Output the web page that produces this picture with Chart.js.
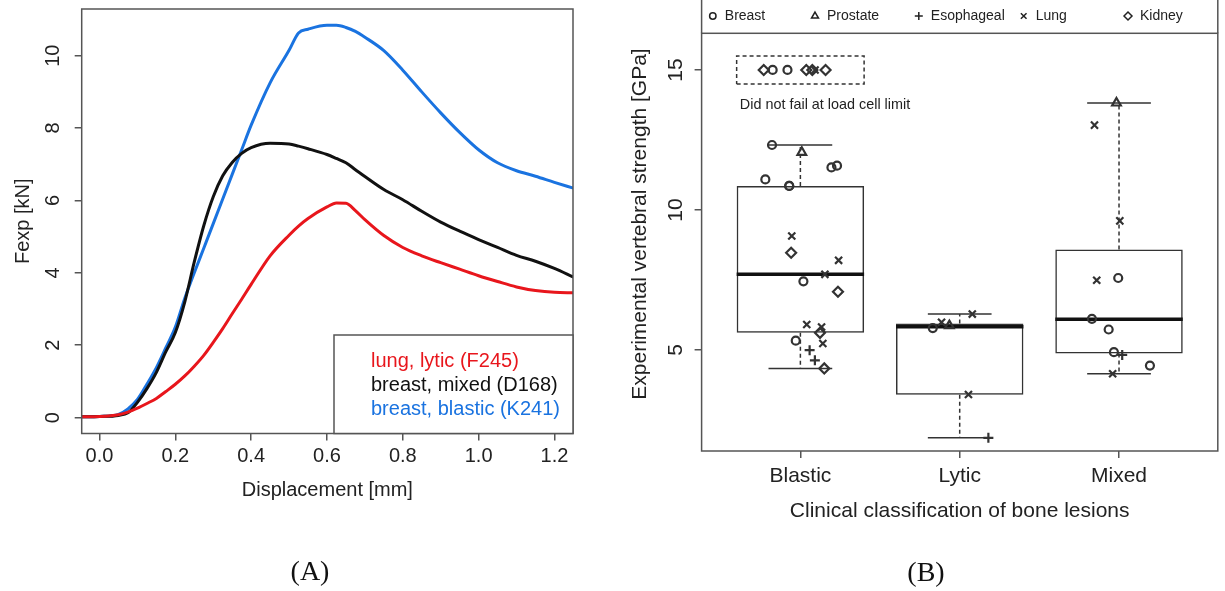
<!DOCTYPE html>
<html>
<head>
<meta charset="utf-8">
<script src="https://cdn.jsdelivr.net/npm/chart.js@4.4.0/dist/chart.umd.min.js"></script>
<style>
  body { margin: 0; background: #fff; }
  #wrap { position: relative; width: 1225px; height: 591px; }
  canvas { position: absolute; top: 0; }
  #chartA { left: 0; }
  #chartB { left: 600px; }
  .panel {
    position: absolute;
    transform: translate(-50%, -50%);
    font-family: "Liberation Serif", "DejaVu Serif", serif;
    font-size: 28px;
    color: #111;
  }
</style>
</head>
<body>
<div id="wrap">
  <canvas id="chartA" width="600" height="591"></canvas>
  <canvas id="chartB" width="625" height="591"></canvas>
  <div class="panel" style="left:310px;top:571px">(A)</div>
  <div class="panel" style="left:926px;top:572px">(B)</div>
</div>
<script>
// ---- panel A: force vs displacement ----
const displacement = [-0.05, 0, 0.05, 0.075, 0.1, 0.125, 0.15, 0.175, 0.2, 0.225, 0.25, 0.275, 0.3, 0.325, 0.35, 0.375, 0.4, 0.45, 0.5, 0.525, 0.55, 0.6, 0.625, 0.65, 0.675, 0.7, 0.75, 0.8, 0.85, 0.9, 0.95, 1.0, 1.05, 1.1, 1.15, 1.2, 1.25];
const forceLytic = [0.02, 0.03, 0.08, 0.15, 0.26, 0.39, 0.53, 0.72, 0.92, 1.15, 1.42, 1.72, 2.08, 2.46, 2.87, 3.27, 3.68, 4.47, 5.04, 5.29, 5.5, 5.82, 5.93, 5.92, 5.72, 5.47, 5.03, 4.7, 4.47, 4.28, 4.1, 3.92, 3.76, 3.61, 3.51, 3.46, 3.45];
const forceMixed = [0.02, 0.03, 0.06, 0.13, 0.42, 0.8, 1.25, 1.82, 2.35, 3.2, 4.3, 5.3, 6.1, 6.68, 7.05, 7.3, 7.46, 7.58, 7.56, 7.5, 7.43, 7.27, 7.16, 7.04, 6.85, 6.66, 6.3, 6.02, 5.7, 5.4, 5.15, 4.92, 4.7, 4.48, 4.32, 4.12, 3.88];
const forceBlastic = [0.02, 0.03, 0.09, 0.24, 0.5, 0.92, 1.38, 1.93, 2.5, 3.3, 4.0, 4.68, 5.36, 6.04, 6.72, 7.4, 8.08, 9.25, 10.15, 10.63, 10.73, 10.84, 10.84, 10.78, 10.67, 10.51, 10.14, 9.6, 9.0, 8.42, 7.88, 7.4, 7.04, 6.82, 6.67, 6.5, 6.34];
const curveLabels = ["lung, lytic (F245)", "breast, mixed (D168)", "breast, blastic (K241)"];
const curveColors = ["#e8161c", "#111111", "#1a73e0"];
const ticksDisp = [0, 0.2, 0.4, 0.6, 0.8, 1.0, 1.2];
const ticksForce = [0, 2, 4, 6, 8, 10];

// ---- panel B: strength by lesion type ----
const lesionTypes = ["Blastic", "Lytic", "Mixed"];
const boxQ1 = [5.61, 3.40, 4.87];
const boxMedian = [7.70, 5.83, 6.10];
const boxQ3 = [10.86, 5.94, 8.59];
const whiskerLow = [4.34, 1.86, 4.15];
const whiskerHigh = [12.32, 6.28, 13.82];
const ticksStrength = [5, 10, 15];

// jittered positions (category + jitter) and strengths, per cancer type
const breastPos = [0.822, 1.195, 1.23, 0.78, 0.93, 0.93, 1.019, 0.971, 1.831, 2.995, 2.83, 2.935, 2.968, 3.194, 0.826, 0.919];
const breastVal = [12.32, 11.52, 11.58, 11.09, 10.86, 10.86, 7.45, 5.33, 5.78, 7.57, 6.11, 5.73, 4.92, 4.44, 15, 15];
const prostatePos = [1.009, 1.935, 2.984];
const prostateVal = [12.06, 5.87, 13.82];
const esophagealPos = [1.058, 1.091, 2.18, 3.02];
const esophagealVal = [4.99, 4.63, 1.86, 4.82];
const lungPos = [0.946, 1.24, 1.154, 1.04, 1.133, 1.141, 1.886, 2.079, 2.055, 2.846, 3.005, 2.86, 2.96, 1.092];
const lungVal = [9.07, 8.2, 7.7, 5.91, 5.82, 5.23, 5.99, 6.28, 3.41, 13.03, 9.61, 7.49, 4.15, 15];
const kidneyPos = [0.942, 1.236, 1.123, 1.15, 0.77, 1.037, 1.075, 1.158];
const kidneyVal = [8.47, 7.08, 5.61, 4.34, 15, 15, 15, 15];
const noFailX = [0.6, 1.4];
const noFailY = [14.5, 15.5];

const cancerTypes = ["Breast", "Prostate", "Esophageal", "Lung", "Kidney"];
const cancerStyles = ["circle", "triangle", "cross", "crossRot", "rectRot"];

const FONT = "'Liberation Sans', Arial, Helvetica, sans-serif";
Chart.defaults.font.family = FONT;
Chart.defaults.color = "#222";

const BOX_HALF = 0.4;
const CAP_HALF = 0.2;
const INK = "#333";

const toXY = (xs, ys) => xs.map((x, i) => ({ x: x, y: ys[i] }));

// fixed axis boxes so the plot frame lands where the original has it
const fixHeight = (h) => (s) => { s.height = h; s.paddingLeft = 0; s.paddingRight = 0; };
const fixWidth = (w) => (s) => { s.width = w; s.paddingTop = 0; s.paddingBottom = 0; };

const frame = {
  id: "frame",
  afterDraw(chart) {
    const { ctx, chartArea: a } = chart;
    ctx.save();
    ctx.strokeStyle = "#555";
    ctx.lineWidth = 1.5;
    ctx.strokeRect(a.left, a.top, a.right - a.left, a.bottom - a.top);
    ctx.restore();
  },
};

const legendA = {
  id: "legendA",
  afterDraw(chart) {
    const { ctx, chartArea: a } = chart;
    ctx.save();
    ctx.fillStyle = "#fff";
    ctx.fillRect(334, 335, a.right - 334, a.bottom - 335);
    ctx.strokeStyle = "#555";
    ctx.lineWidth = 1.5;
    ctx.strokeRect(334, 335, a.right - 334, a.bottom - 335);
    ctx.font = "20px " + FONT;
    ctx.textBaseline = "middle";
    curveLabels.forEach((t, i) => {
      ctx.fillStyle = curveColors[i];
      ctx.fillText(t, 371, 361 + i * 24);
    });
    ctx.restore();
  },
};

new Chart(document.getElementById("chartA"), {
  type: "line",
  data: {
    datasets: [forceLytic, forceMixed, forceBlastic].map((f, i) => ({
      label: curveLabels[i],
      data: toXY(displacement, f),
      borderColor: curveColors[i],
      borderWidth: 3,
      pointRadius: 0,
      cubicInterpolationMode: "monotone",
    })),
  },
  options: {
    responsive: false,
    animation: false,
    layout: { padding: { top: 9, right: 27, left: 0, bottom: 0 } },
    plugins: { legend: { display: false }, tooltip: { enabled: false } },
    scales: {
      x: {
        type: "linear",
        min: -0.047,
        max: 1.249,
        afterFit: fixHeight(157.5),
        afterBuildTicks: (s) => { s.ticks = ticksDisp.map((v) => ({ value: v })); },
        ticks: { callback: (v) => v.toFixed(1), font: { size: 20 }, padding: 4, color: "#222" },
        grid: { drawOnChartArea: false, tickLength: 7, color: "#555", lineWidth: 1.5 },
        border: { display: false },
        title: { display: true, text: "Displacement [mm]", font: { size: 20 }, color: "#222", padding: { bottom: 89 } },
      },
      y: {
        type: "linear",
        min: -0.44,
        max: 11.29,
        afterFit: fixWidth(81.7),
        afterBuildTicks: (s) => { s.ticks = ticksForce.map((v) => ({ value: v })); },
        ticks: { minRotation: 90, maxRotation: 90, crossAlign: "center", font: { size: 20 }, padding: 10, color: "#222" },
        grid: { drawOnChartArea: false, tickLength: 7, color: "#555", lineWidth: 1.5 },
        border: { display: false },
        title: { display: true, text: "Fexp [kN]", font: { size: 20 }, color: "#222", padding: { top: 11 } },
      },
    },
  },
  plugins: [frame, legendA],
});

// ---- panel B ----
const medianSegs = [];
const whiskerSegs = [];
const capSegs = [];
lesionTypes.forEach((_, i) => {
  const c = i + 1;
  medianSegs.push({ x: c - BOX_HALF, y: boxMedian[i] }, { x: c + BOX_HALF, y: boxMedian[i] }, { x: c, y: null });
  whiskerSegs.push({ x: c, y: boxQ3[i] }, { x: c, y: whiskerHigh[i] }, { x: c, y: null });
  whiskerSegs.push({ x: c, y: boxQ1[i] }, { x: c, y: whiskerLow[i] }, { x: c, y: null });
  capSegs.push({ x: c - CAP_HALF, y: whiskerHigh[i] }, { x: c + CAP_HALF, y: whiskerHigh[i] }, { x: c, y: null });
  capSegs.push({ x: c - CAP_HALF, y: whiskerLow[i] }, { x: c + CAP_HALF, y: whiskerLow[i] }, { x: c, y: null });
});

const noFailRect = [
  { x: noFailX[0], y: noFailY[0] }, { x: noFailX[1], y: noFailY[0] },
  { x: noFailX[1], y: noFailY[1] }, { x: noFailX[0], y: noFailY[1] },
  { x: noFailX[0], y: noFailY[0] },
];

const pointSets = [
  [breastPos, breastVal],
  [prostatePos, prostateVal],
  [esophagealPos, esophagealVal],
  [lungPos, lungVal],
  [kidneyPos, kidneyVal],
];

const pointDatasets = pointSets.map(([xs, ys], i) => ({
  type: "scatter",
  label: cancerTypes[i],
  data: toXY(xs, ys),
  pointStyle: cancerStyles[i],
  pointRadius: cancerStyles[i] === "circle" ? 4 : 5,
  borderColor: INK,
  backgroundColor: "rgba(0,0,0,0)",
  borderWidth: 2.2,
  order: 0,
}));

const legendB = {
  id: "legendB",
  afterDraw(chart) {
    const { ctx, chartArea: a } = chart;
    const symX = [112.8, 215, 318.8, 423.7, 528];
    ctx.save();
    ctx.strokeStyle = "#555";
    ctx.lineWidth = 1.5;
    ctx.beginPath();
    ctx.moveTo(a.left, 0);
    ctx.lineTo(a.left, a.top);
    ctx.moveTo(a.right, 0);
    ctx.lineTo(a.right, a.top);
    ctx.stroke();
    ctx.font = "14px " + FONT;
    ctx.textBaseline = "middle";
    ctx.fillStyle = "#222";
    cancerTypes.forEach((t, i) => {
      ctx.strokeStyle = "#222";
      ctx.fillStyle = "rgba(0,0,0,0)";
      Chart.helpers.drawPoint(ctx, { pointStyle: cancerStyles[i], radius: cancerStyles[i] === "circle" ? 3.2 : 4, borderWidth: 1, rotation: 0 }, symX[i], 16);
      ctx.fillStyle = "#222";
      ctx.fillText(t, symX[i] + 12, 16);
    });

    // note under the dashed box
    const xs = chart.scales.x;
    const ys = chart.scales.y;
    ctx.font = "14.4px " + FONT;
    ctx.fillText("Did not fail at load cell limit", xs.getPixelForValue(0.62), ys.getPixelForValue(13.75));

    // rotated y axis title
    ctx.translate(40, 224);
    ctx.rotate(-Math.PI / 2);
    ctx.textAlign = "center";
    ctx.font = "21px " + FONT;
    ctx.fillText("Experimental vertebral strength [GPa]", 0, 0);
    ctx.restore();
  },
};

new Chart(document.getElementById("chartB"), {
  type: "scatter",
  data: {
    datasets: [
      ...pointDatasets,
      {
        type: "line",
        label: "median",
        data: medianSegs,
        borderColor: "#111",
        borderWidth: 3.5,
        pointRadius: 0,
        order: 1,
      },
      {
        type: "line",
        label: "whiskers",
        data: whiskerSegs,
        borderColor: INK,
        borderWidth: 1.5,
        borderDash: [4, 3],
        pointRadius: 0,
        order: 1,
      },
      {
        type: "line",
        label: "caps",
        data: capSegs,
        borderColor: INK,
        borderWidth: 1.5,
        pointRadius: 0,
        order: 1,
      },
      {
        type: "line",
        label: "not failed",
        data: noFailRect,
        borderColor: INK,
        borderWidth: 1.5,
        borderDash: [4, 3],
        pointRadius: 0,
        order: 1,
      },
      {
        type: "bar",
        label: "box",
        data: lesionTypes.map((_, i) => ({ x: i + 1, y: [boxQ1[i], boxQ3[i]] })),
        backgroundColor: "rgba(255,255,255,0)",
        borderColor: INK,
        borderWidth: 1.5,
        borderSkipped: false,
        barPercentage: 0.8,
        categoryPercentage: 1,
        order: 2,
      },
    ],
  },
  options: {
    responsive: false,
    animation: false,
    layout: { padding: { top: 33.3, right: 0, left: 0, bottom: 0 } },
    plugins: { legend: { display: false }, tooltip: { enabled: false } },
    scales: {
      x: {
        type: "linear",
        min: 0.38,
        max: 3.62,
        offset: false,
        afterFit: fixHeight(140),
        afterBuildTicks: (s) => { s.ticks = lesionTypes.map((_, i) => ({ value: i + 1 })); },
        ticks: { callback: (v) => lesionTypes[Math.round(v) - 1], font: { size: 21 }, padding: 6, color: "#222" },
        grid: { offset: false, drawOnChartArea: false, tickLength: 7, color: "#555", lineWidth: 1.5 },
        border: { display: false },
        title: { display: true, text: "Clinical classification of bone lesions", font: { size: 21 }, color: "#222", padding: { bottom: 67 } },
      },
      y: {
        type: "linear",
        min: 1.39,
        max: 16.31,
        afterFit: fixWidth(101.6),
        afterBuildTicks: (s) => { s.ticks = ticksStrength.map((v) => ({ value: v })); },
        ticks: { minRotation: 90, maxRotation: 90, crossAlign: "center", font: { size: 21 }, padding: 7, color: "#222" },
        grid: { drawOnChartArea: false, tickLength: 7, color: "#555", lineWidth: 1.5 },
        border: { display: false },
      },
    },
  },
  plugins: [frame, legendB],
});
</script>
</body>
</html>
